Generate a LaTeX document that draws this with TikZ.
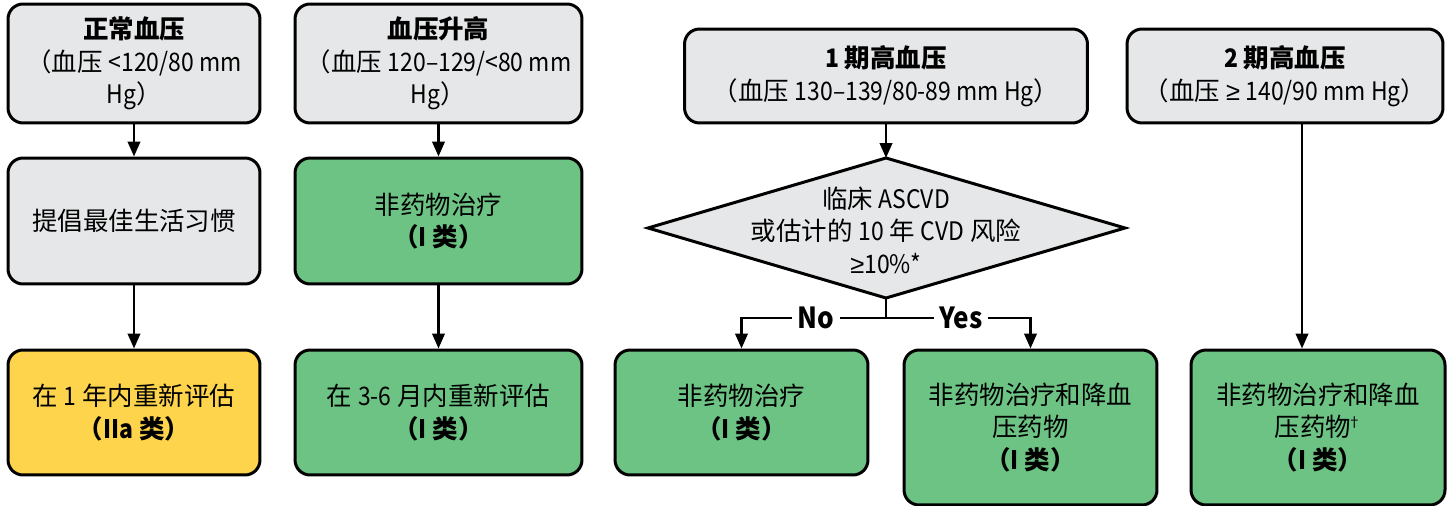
\documentclass[tikz,border=0pt]{standalone}
\usepackage{fontspec}
\setmainfont{Noto Sans CJK SC}
\newfontfamily\latn{Noto Sans CJK SC}[FakeStretch=0.9]
\newfontfamily\symf{Liberation Sans}
\newcommand{\lt}[1]{{\latn #1}}
\usetikzlibrary{arrows.meta}
\definecolor{cgray}{HTML}{E6E7E8}
\definecolor{cgreen}{HTML}{6DC384}
\definecolor{cyellow}{HTML}{FDD44B}
\begin{document}
\begin{tikzpicture}[x=0.02cm,y=-0.02cm,
 box/.style={draw=black, line width=0.06cm, rounded corners=0.3cm, align=center, inner sep=0pt, font=\fontsize{14.5}{18.5}\selectfont},
 gbox/.style={box, fill=cgray},
 greenbox/.style={box, fill=cgreen},
 ybox/.style={box, fill=cyellow},
 arr/.style={line width=0.05cm, -{Triangle[length=0.3cm,width=0.25cm]}},
 conn/.style={line width=0.05cm},
 lbl/.style={font=\fontsize{16.5}{18}\selectfont\bfseries\latn, fill=white, inner sep=3pt},
 dtxt/.style={align=center, inner sep=0pt, font=\fontsize{14.5}{18.5}\selectfont}
]
\useasboundingbox (0,0) rectangle (1452,506);
% top row
\node[gbox, minimum width=5.04cm, minimum height=2.38cm] (b1) at (134,63.5) {\textbf{正常血压}\\（血压 \lt{<120/80 mm}\\\lt{Hg}）};
\node[gbox, minimum width=5.74cm, minimum height=2.38cm] (b2) at (438.5,63.5) {\textbf{血压升高}\\（血压 \lt{120–129/<80 mm}\\\lt{Hg}）};
\node[gbox, minimum width=8.06cm, minimum height=1.88cm] (b3) at (886,76) {\textbf{\lt{1} 期高血压}\\（血压 \lt{130–139/80-89 mm Hg}）};
\node[gbox, minimum width=6.32cm, minimum height=1.88cm] (b4) at (1285,76) {\textbf{\lt{2} 期高血压}\\（血压 {\symf ≥} \lt{140/90 mm Hg}）};
% middle row
\node[gbox, minimum width=5.04cm, minimum height=2.52cm] (b5) at (134,221) {提倡最佳生活习惯};
\node[greenbox, minimum width=5.74cm, minimum height=2.52cm] (b6) at (438.5,221) {非药物治疗\\\textbf{（\lt{I} 类）}};
% diamond
\coordinate (dt) at (886,158);
\coordinate (db) at (886,298);
\coordinate (dl) at (648,228);
\coordinate (dr) at (1125,228);
\draw[line width=0.06cm, fill=cgray] (dt) -- (dr) -- (db) -- (dl) -- cycle;
\node[dtxt] (dtext) at (886,230) {临床 \lt{ASCVD}\\或估计的 \lt{10} 年 \lt{CVD} 风险\\{\symf ≥}\lt{10\%*}};
% bottom row
\node[ybox, minimum width=5.04cm, minimum height=2.5cm] (b7) at (134,412.5) {在 \lt{1} 年内重新评估\\\textbf{（\lt{IIa} 类）}};
\node[greenbox, minimum width=5.74cm, minimum height=2.5cm] (b8) at (438.5,412.5) {在 \lt{3-6} 月内重新评估\\\textbf{（\lt{I} 类）}};
\node[greenbox, minimum width=5.06cm, minimum height=2.5cm] (b9) at (741.5,412.5) {非药物治疗\\\textbf{（\lt{I} 类）}};
\node[greenbox, minimum width=5.06cm, minimum height=3.1cm] (b10) at (1030.5,427.5) {非药物治疗和降血\\压药物\\\textbf{（\lt{I} 类）}};
\node[greenbox, minimum width=5.08cm, minimum height=3.1cm] (b11) at (1318,427.5) {非药物治疗和降血\\压药物\hspace{-0.15em}\raisebox{0.7ex}{\fontsize{8}{8}\selectfont †}\\\textbf{（\lt{I} 类）}};
% connectors
\draw[arr] (b1) -- (b5);
\draw[arr] (b5) -- (b7);
\draw[arr] (b2) -- (b6);
\draw[arr] (b6) -- (b8);
\draw[arr] (b3) -- (dt);
\coordinate (split) at (886,318);
\draw[conn] (db) -- (split);
\draw[arr] (split) -| (b9.north);
\draw[arr] (split) -| (b10.north);
\node[lbl] (no) at (816,318) {No};
\node[lbl] (yes) at (961,318) {Yes};
\draw[arr] ([xshift=0.34cm]b4.south) -- ([xshift=0.34cm]b4.south |- b11.north);
\end{tikzpicture}
\end{document}
